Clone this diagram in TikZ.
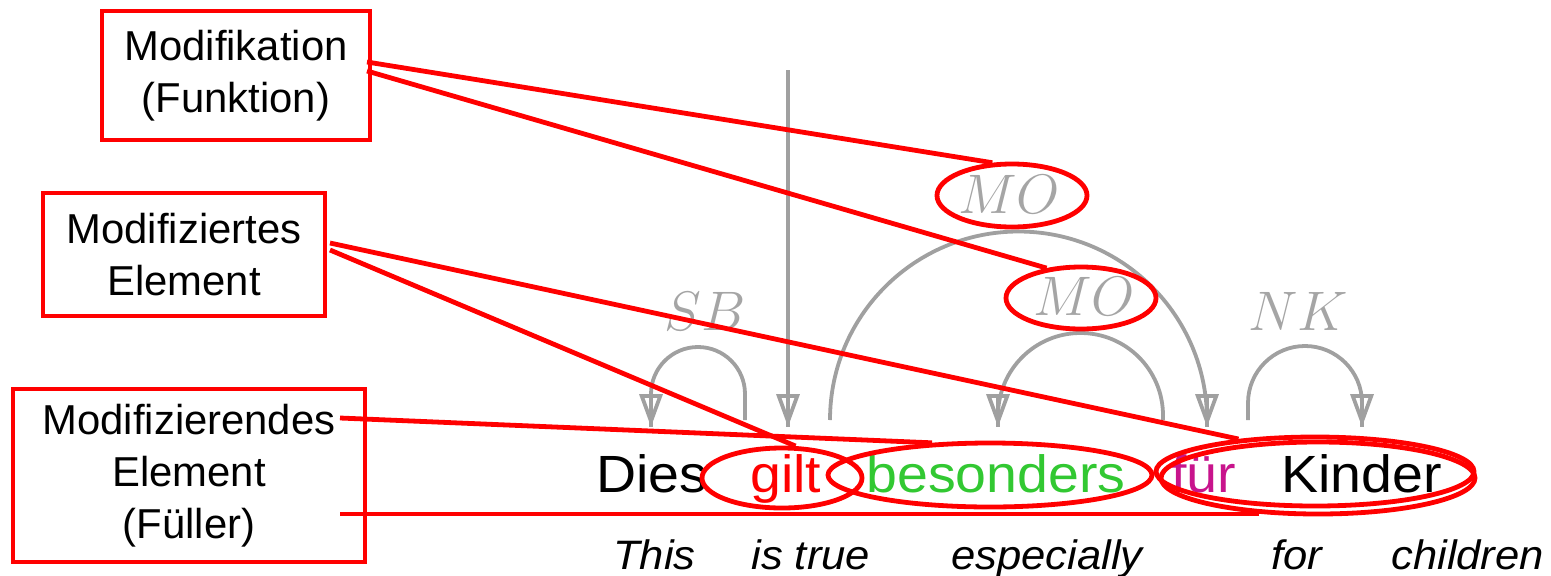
\RequirePackage{fix-cm}
\documentclass[tikz,border=0pt]{standalone}
\usepackage{fontspec}
\setmainfont{Liberation Sans}
\newfontfamily\wordfont[FakeStretch=1.06]{Liberation Sans}
\usetikzlibrary{shapes.geometric,arrows.meta}
\newlength\pxu \setlength\pxu{0.02cm}
\definecolor{arcgray}{RGB}{160,160,160}
\definecolor{labgray}{RGB}{165,165,165}
\definecolor{wgreen}{RGB}{50,200,50}
\definecolor{wmag}{RGB}{200,20,140}
\definecolor{pred}{RGB}{255,0,0}
\tikzset{
  labelbox/.style={draw=pred, line width=4.6\pxu, align=center, inner sep=0,
    font=\fontsize{23.8}{29.5}\selectfont},
  word/.style={anchor=base west, inner sep=0, font=\wordfont\fontsize{29.8}{35}\selectfont},
  trans/.style={anchor=base west, inner sep=0, font=\wordfont\fontsize{23.4}{28}\selectfont\itshape},
  dlab/.style={anchor=base, inner sep=0, text=labgray, font=\fontsize{31.7}{38}\selectfont},
  ring/.style={draw=pred, ellipse, line width=4.8\pxu, inner sep=0},
  link/.style={draw=pred, line width=4.8\pxu},
  garc/.style={draw=arcgray, line width=3.8\pxu},
  gtip/.style={-{Triangle[open, length=18.7pt, width=13pt]}}
}
\begin{document}
\begin{tikzpicture}[x=0.02cm, y=-0.02cm]
\useasboundingbox (0,0) rectangle (1551,575);

% left boxes
\node[labelbox, minimum width=268\pxu, minimum height=129\pxu] (fun) at (236,75.5) {Modifikation\\(Funktion)};
\node[labelbox, minimum width=282\pxu, minimum height=123\pxu] (mod) at (184,254.5) {Modifiziertes\\Element};
\node[labelbox, minimum width=352\pxu, minimum height=173\pxu] (fil) at (189,475.5) {Modifizierendes\\Element\\(Füller)};

% words
\node[word] (w1) at (596,492) {Dies};
\node[word, text=pred] (w2) at (750,492) {gilt};
\node[word, text=wgreen] (w3) at (866,492) {besonders};
\node[word, text=wmag] (w4) at (1171,492) {für};
\node[word] (w5) at (1281,492) {Kinder};

% translations
\node[trans] (t1) at (613,569) {This};
\node[trans] (t2) at (751,569) {is true};
\node[trans] (t3) at (951,569) {especially};
\node[trans] (t4) at (1271,569) {for};
\node[trans] (t5) at (1391,569) {children};

% dependency labels
\node[dlab] (lsb) at (705,330) {$SB$};
\node[dlab] (lmo1) at (1009,213) {$MO$};
\node[dlab] (lmo2) at (1084,315) {$MO$};
\node[dlab] (lnk) at (1298,330) {$NK$};

% dependency arcs
\draw[garc, gtip] (788,70) -- (788,427);
\draw[garc] (788,394) -- (788,427);
\draw[garc, gtip] (745,420) -- (745,394) arc[start angle=360, end angle=180, radius=47] -- (651,427);
\draw[garc] (651,394) -- (651,427);
\draw[garc, gtip] (830,420) arc[start angle=180, end angle=360, radius=188.5] -- (1207,427);
\draw[garc] (1207,394) -- (1207,427);
\draw[garc, gtip] (1163,420) -- (1163,415.5) arc[start angle=360, end angle=180, radius=82.5] -- (998,427);
\draw[garc] (998,394) -- (998,427);
\draw[garc, gtip] (1248,420) -- (1248,403) arc[start angle=180, end angle=360, radius=57] -- (1362,427);
\draw[garc] (1362,394) -- (1362,427);

% red rings
\node[ring, minimum width=150\pxu, minimum height=63\pxu] (rmo1) at (1012,195.5) {};
\node[ring, minimum width=150\pxu, minimum height=62\pxu] (rmo2) at (1081,298) {};
\node[ring, minimum width=160\pxu, minimum height=60\pxu] (rgilt) at (782,478) {};
\node[ring, minimum width=324\pxu, minimum height=64\pxu] (rbes) at (990,475) {};
\node[ring, minimum width=318\pxu, minimum height=69\pxu] (rka) at (1315,471.5) {};
\node[ring, minimum width=314\pxu, minimum height=72\pxu] (rkb) at (1318,478) {};

% connectors
\coordinate (f1) at (367,62);
\coordinate (f2) at (367,71);
\coordinate (m1) at (330,243);
\coordinate (m2) at (330,250);
\coordinate (e1) at (340,418);
\coordinate (e2) at (340,514);
\draw[link] (f1) -- (rmo1.121);
\draw[link] (f2) -- (rmo2.139);
\draw[link] (m1) -- (rka.157);
\draw[link] (m2) -- (rgilt.67);
\draw[link] (e1) -- (rbes.151);
\draw[link] (e2) -- (e2 -| rkb.211);
\end{tikzpicture}
\end{document}
